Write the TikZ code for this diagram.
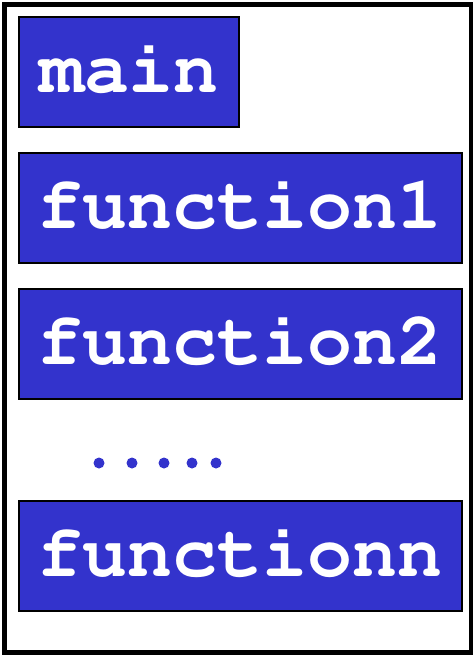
\documentclass[tikz,border=0pt]{standalone}
\usepackage[T1]{fontenc}
\definecolor{boxblue}{HTML}{3333CC}
\begin{document}
\begin{tikzpicture}[x=1pt,y=-1pt,
  fnbox/.style={draw=black,line width=2pt,fill=boxblue,text=white,inner sep=0pt,
    minimum height=110pt,text height=50pt,text depth=10pt,
    font=\fontfamily{pcr}\fontseries{b}\fontsize{75}{75}\selectfont},
  dot/.style={circle,fill=boxblue,inner sep=0pt,minimum size=11pt}]
\useasboundingbox (0,0) rectangle (472,657);
\draw[line width=5pt] (4.5,4.5) rectangle (471,652.5);
\node[fnbox,minimum width=220pt] (main) at (129,72) {main};
\node[fnbox,minimum width=443pt] (f1) at (240.5,208) {function1};
\node[fnbox,minimum width=443pt] (f2) at (240.5,344) {function2};
\node[fnbox,minimum width=443pt] (fn) at (240.5,556) {functionn};
\node[dot] (d1) at (99,463) {};
\node[dot] (d2) at (132,463) {};
\node[dot] (d3) at (164,463) {};
\node[dot] (d4) at (192,463) {};
\node[dot] (d5) at (216,463) {};
\end{tikzpicture}
\end{document}
